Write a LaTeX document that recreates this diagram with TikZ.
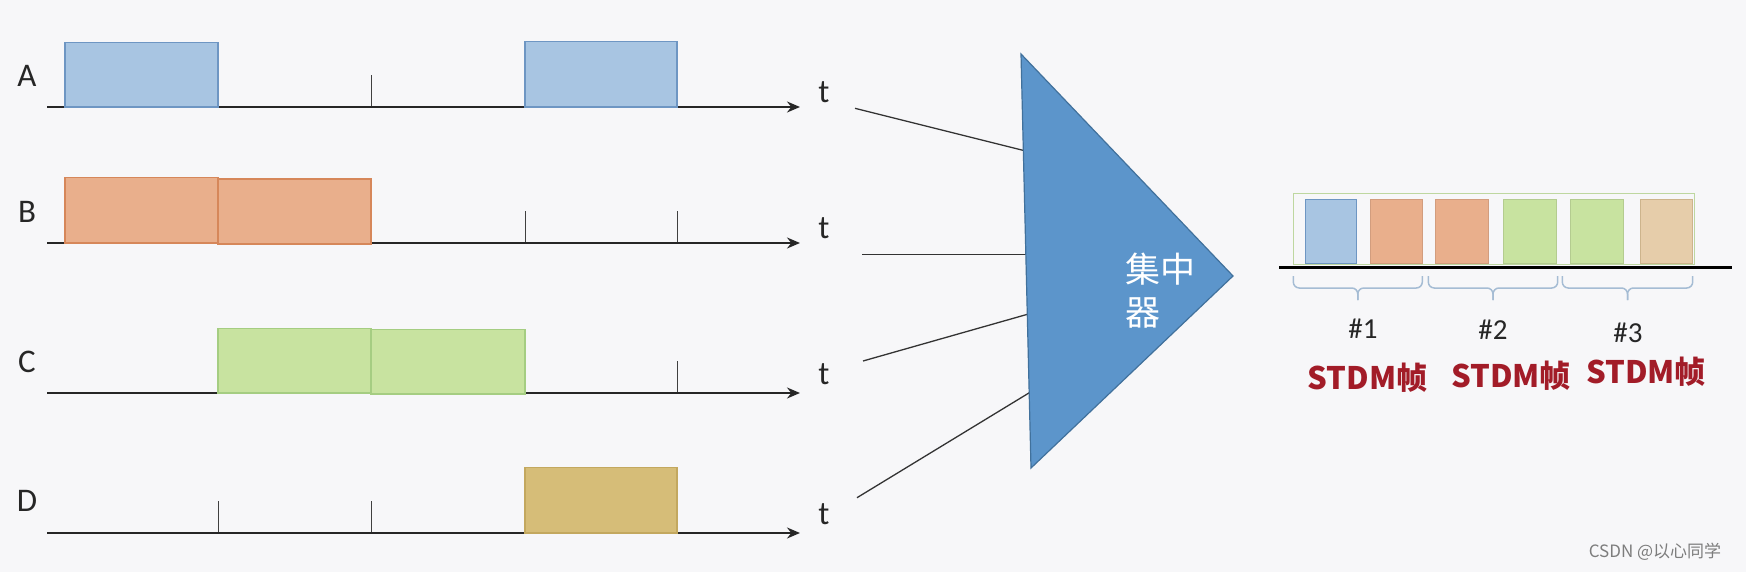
\documentclass[tikz,border=0pt]{standalone}
\usepackage{fontspec}
\setmainfont{Carlito}
\newfontfamily\cjk{Noto Sans CJK SC}
\usetikzlibrary{arrows.meta,calc}
\definecolor{bg}{RGB}{247,247,249}
\definecolor{blueF}{RGB}{168,197,226}
\definecolor{blueD}{RGB}{110,150,195}
\definecolor{oranF}{RGB}{233,175,140}
\definecolor{oranD}{RGB}{214,135,90}
\definecolor{greenF}{RGB}{200,227,160}
\definecolor{greenD}{RGB}{165,205,130}
\definecolor{tanF}{RGB}{214,189,120}
\definecolor{tanD}{RGB}{195,168,95}
\definecolor{tan2F}{RGB}{230,205,170}
\definecolor{tan2D}{RGB}{205,180,140}
\definecolor{triF}{RGB}{92,149,203}
\definecolor{triD}{RGB}{65,113,156}
\definecolor{braceC}{RGB}{165,188,212}
\definecolor{frameC}{RGB}{190,215,160}
\definecolor{stdm}{RGB}{162,28,40}
\definecolor{wm}{RGB}{125,125,125}
\tikzset{
  axis/.style={line width=1.6pt, draw=black!85, -{Stealth[length=13pt,width=11pt]}},
  tick/.style={line width=1pt, draw=black!75},
  sig/.style={line width=1.2pt},
  chlabel/.style={font=\fontsize{33}{38}\selectfont, inner sep=0pt, text=black!85},
  tlabel/.style={font=\fontsize{33}{38}\selectfont, inner sep=0pt, text=black!85},
  feed/.style={line width=1.3pt, draw=black!80},
  slot/.style={line width=1pt},
  brc/.style={draw=braceC, line width=1.5pt, rounded corners=6pt},
  num/.style={font=\fontsize{29}{32}\selectfont, inner sep=0pt, text=black!85},
  frm/.style={font=\cjk\bfseries\fontsize{31}{36}\selectfont, inner sep=0pt, text=stdm}
}
\newcommand\bracketpath[2]{%
  \draw[brc] (#1,276) -- (#1,288) -- ({(#1+#2)/2},288) -- ({(#1+#2)/2},300);
  \draw[brc] (#2,276) -- (#2,288) -- ({(#1+#2)/2},288) -- ({(#1+#2)/2},300);
}
\begin{document}
\begin{tikzpicture}[x=1pt,y=-1pt]
\path[fill=bg] (0,0) rectangle (1746,572);
\useasboundingbox (0,0) rectangle (1746,572);

% channel labels
\node[chlabel] (lA) at (27,76) {A};
\node[chlabel] (lB) at (27,212) {B};
\node[chlabel] (lC) at (27,362) {C};
\node[chlabel] (lD) at (27,501) {D};

% axes
\foreach \n/\y in {A/107,B/243,C/393,D/533}{
  \coordinate (a\n0) at (47,\y);
  \coordinate (a\n1) at (800,\y);
  \foreach \x in {218,371,525,677}{\draw[tick] (\x,\y) -- (\x,\y-32);}
  \draw[axis] (a\n0) -- (a\n1);
}

% signals
\draw[sig,fill=blueF,draw=blueD] (65,42.5) rectangle (218,107);
\draw[sig,fill=blueF,draw=blueD] (525,41.5) rectangle (677,107);
\draw[sig,fill=oranF,draw=oranD] (65,177.7) rectangle (218,243);
\draw[sig,fill=oranF,draw=oranD] (218,179) rectangle (371,244);
\draw[sig,fill=greenF,draw=greenD] (218,328.3) rectangle (371,393);
\draw[sig,fill=greenF,draw=greenD] (371,329.7) rectangle (525,394);
\draw[sig,fill=tanF,draw=tanD] (525,467.7) rectangle (677,533);

% t labels
\node[tlabel] (tA) at (824,92) {t};
\node[tlabel] (tB) at (824,228) {t};
\node[tlabel] (tC) at (824,374) {t};
\node[tlabel] (tD) at (824,514) {t};

% feed lines
\coordinate (sA) at (855,108.3);
\coordinate (sB) at (862,254.3);
\coordinate (sC) at (863,361);
\coordinate (sD) at (857,497.7);
\coordinate (pA) at (1024.5,150.7);
\coordinate (pB) at (1027,254.3);
\coordinate (pC) at (1028.5,314);
\coordinate (pD) at (1030.5,392);
\draw[feed] (sA) -- (pA);
\draw[feed] (sB) -- (pB);
\draw[feed] (sC) -- (pC);
\draw[feed] (sD) -- (pD);

% concentrator
\coordinate (v1) at (1021,54);
\coordinate (v2) at (1233,276);
\coordinate (v3) at (1031,468);
\draw[fill=triF,draw=triD,line width=1.2pt,line join=miter] (v1) -- (v2) -- (v3) -- cycle;
\node[font=\cjk\fontsize{35}{43}\selectfont, text=white, align=left, inner sep=0pt, anchor=west] (conc) at (1125,291) {集中\\器};

% STDM frames
\draw[frameC,line width=1pt] (1293.3,194) rectangle (1694,264.3);
\draw[slot,fill=blueF,draw=blueD] (1305,199.3) rectangle (1356,264);
\draw[slot,fill=oranF,draw=oranF!90!black] (1370,199.3) rectangle (1422.3,264);
\draw[slot,fill=oranF,draw=oranF!90!black] (1435.7,199.3) rectangle (1488.7,264);
\draw[slot,fill=greenF,draw=greenF!90!black] (1503,199.3) rectangle (1556,264);
\draw[slot,fill=greenF,draw=greenF!90!black] (1570.7,199.3) rectangle (1623.3,264);
\draw[slot,fill=tan2F,draw=tan2D] (1640,199.3) rectangle (1692,264);
\coordinate (bl0) at (1279,267.7);
\coordinate (bl1) at (1732,267.7);
\draw[line width=3.3pt] (bl0) -- (bl1);

\bracketpath{1293.3}{1422.3}
\bracketpath{1428.3}{1557.7}
\bracketpath{1562.3}{1692.7}

\node[num] (n1) at (1363,329) {\#1};
\node[num] (n2) at (1493,330) {\#2};
\node[num] (n3) at (1628,333) {\#3};
\node[frm] (f1) at (1367.5,378) {STDM帧};
\node[frm] (f2) at (1511,376) {STDM帧};
\node[frm] (f3) at (1646,372) {STDM帧};

\node[font=\cjk\fontsize{17}{20}\selectfont, text=wm, inner sep=0pt] (wmk) at (1655,552) {CSDN @以心同学};
\end{tikzpicture}
\end{document}
